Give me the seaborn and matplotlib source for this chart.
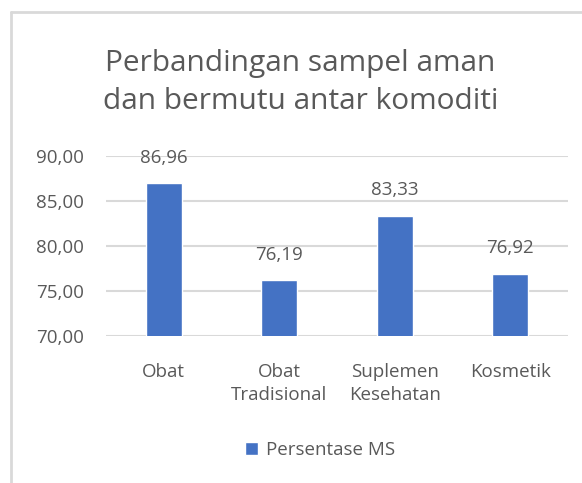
import pandas as pd
import matplotlib.pyplot as plt
import seaborn as sns
from matplotlib.lines import Line2D

# Perbandingan sampel aman dan bermutu per komoditi
komoditi = ['Obat', 'Obat\nTradisional', 'Suplemen\nKesehatan', 'Kosmetik']
persentase = [86.96, 76.19, 83.33, 76.92]
label_seri = 'Persentase MS'
judul = 'Perbandingan sampel aman\ndan bermutu antar komoditi'

df = pd.DataFrame({'komoditi': komoditi, 'persentase': persentase})

sns.set_style('white')
plt.rcParams['font.family'] = ['Open Sans', 'DejaVu Sans']
abu = '#595959'

fig = plt.figure(figsize=(5.82, 4.83), dpi=100)
ax = fig.add_axes([0.182, 0.304, 0.794, 0.373])

sns.barplot(x='komoditi', y='persentase', data=df, color='#4472C4',
            width=0.31, saturation=1, label=label_seri, ax=ax, zorder=3)

ax.set_ylim(70, 90)
ax.set_yticks([70, 75, 80, 85, 90])
ax.set_yticklabels([f'{v:.2f}'.replace('.', ',') for v in [70, 75, 80, 85, 90]])
ax.grid(axis='y', color='#D9D9D9', linewidth=1.5, zorder=0)
ax.grid(axis='x', visible=False)
for s in ax.spines.values():
    s.set_visible(False)
ax.set_xlabel('')
ax.set_ylabel('')
ax.tick_params(axis='y', length=0, pad=16, labelsize=13.5, labelcolor=abu)
ax.tick_params(axis='x', length=0, pad=19, labelsize=13.5, labelcolor=abu)
for lbl in ax.get_xticklabels():
    lbl.set_linespacing(1.4)

for i, v in enumerate(persentase):
    ax.annotate(f'{v:.2f}'.replace('.', ','), (i, v), xytext=(0, 18.5),
                textcoords='offset points', ha='center', va='center',
                fontsize=13.5, color=abu)

fig.text(0.516, 0.83, judul, ha='center', va='center', fontsize=21.5,
         color=abu, linespacing=1.4)

leg = ax.legend(loc='center', frameon=False, fontsize=13.5, handlelength=0.7,
                handleheight=0.7, handletextpad=0.4)
leg.set_bbox_to_anchor((0.55, 0.068), transform=fig.transFigure)
for t in leg.get_texts():
    t.set_color(abu)

# bingkai grafik
fig.add_artist(Line2D([11 / 582, 11 / 582], [0, 1 - 12 / 483], transform=fig.transFigure,
                      color='#D9D9D9', linewidth=2))
fig.add_artist(Line2D([11 / 582, 1], [1 - 12 / 483, 1 - 12 / 483], transform=fig.transFigure,
                      color='#D9D9D9', linewidth=2))

fig.savefig('out.png', dpi=100, facecolor='white')
